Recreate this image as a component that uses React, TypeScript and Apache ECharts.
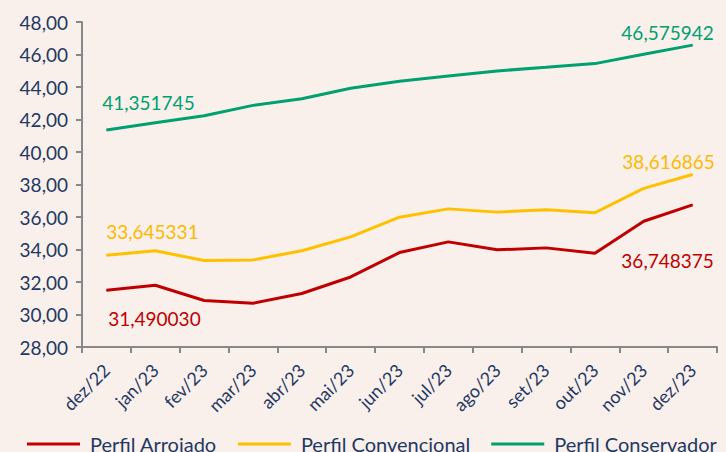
import React, { useEffect, useRef } from "react";
import * as echarts from "echarts";

const categories = ["dez/22", "jan/23", "fev/23", "mar/23", "abr/23", "mai/23", "jun/23", "jul/23", "ago/23", "set/23", "out/23", "nov/23", "dez/23"];
const arroiado = [31.49003, 31.8, 30.86, 30.69, 31.29, 32.31, 33.81, 34.47, 33.98, 34.1, 33.77, 35.74, 36.748375];
const convencional = [33.645331, 33.92, 33.32, 33.36, 33.92, 34.78, 35.99, 36.5, 36.3, 36.44, 36.26, 37.76, 38.616865];
const conservador = [41.351745, 41.8, 42.23, 42.87, 43.28, 43.92, 44.35, 44.68, 44.99, 45.21, 45.44, 46.01, 46.575942];
const seriesNames = ["Perfil Arroiado", "Perfil Convencional", "Perfil Conservador"];
const colors = ["#C00000", "#FFC000", "#00A070"];

const FONT = "Lato";
const NAVY = "#1F3864";

const fmt = (v: number) => v.toFixed(6).replace(".", ",");

function withLabels(values: number[], color: string, first: number[], last: number[]) {
  return values.map((v, i) => {
    if (i === 0 || i === values.length - 1) {
      return {
        value: v,
        label: {
          show: true,
          position: "inside",
          offset: i === 0 ? first : last,
          formatter: () => fmt(v),
          color,
          fontFamily: FONT,
          fontSize: 19,
        },
      };
    }
    return v;
  });
}

export default function App() {
  const ref = useRef<HTMLDivElement>(null);
  useEffect(() => {
    const chart = echarts.init(ref.current!, null, { renderer: "svg" });
    const mk = (name: string, data: any[], color: string) => ({
      name,
      type: "line",
      data,
      symbol: "circle",
      symbolSize: 1,
      showSymbol: true,
      itemStyle: { color },
      lineStyle: { color, width: 3 },
      emphasis: { disabled: true },
    });
    chart.setOption({
      animation: false,
      backgroundColor: "#F9F0EB",
      grid: { left: 82, right: 9, top: 22, bottom: 105 },
      legend: {
        left: 27,
        top: 434,
        padding: 0,
        itemWidth: 53,
        itemHeight: 3,
        itemGap: 21,
        icon: "rect",
        textStyle: { color: NAVY, fontFamily: FONT, fontSize: 20, padding: [0, 0, 0, 5] },
        data: seriesNames,
      },
      xAxis: {
        type: "category",
        data: categories,
        boundaryGap: true,
        axisLine: { lineStyle: { color: "#888888", width: 2 } },
        axisTick: { show: true, length: 6, lineStyle: { color: "#888888", width: 2 } },
        axisLabel: { rotate: 45, color: NAVY, fontFamily: FONT, fontSize: 18, margin: 20, interval: 0 },
      },
      yAxis: {
        type: "value",
        min: 28,
        max: 48,
        interval: 2,
        splitLine: { show: false },
        axisLine: { show: true, lineStyle: { color: "#888888", width: 2 } },
        axisTick: { show: true, inside: false, length: 6, lineStyle: { color: "#888888", width: 2 } },
        axisLabel: {
          color: NAVY,
          fontFamily: FONT,
          fontSize: 19,
          margin: 14,
          formatter: (v: number) => v.toFixed(2).replace(".", ","),
        },
      },
      series: [
        mk(seriesNames[0], withLabels(arroiado, colors[0], [48, 28], [-25, 56]), colors[0]),
        mk(seriesNames[1], withLabels(convencional, "#FFB800", [46, -24], [-24, -13]), colors[1]),
        mk(seriesNames[2], withLabels(conservador, "#00A070", [42, -28], [-25, -13]), colors[2]),
      ],
    });
    return () => chart.dispose();
  }, []);
  return <div ref={ref} style={{ width: 726, height: 452, position: "absolute", left: 0, top: 0 }} />;
}
